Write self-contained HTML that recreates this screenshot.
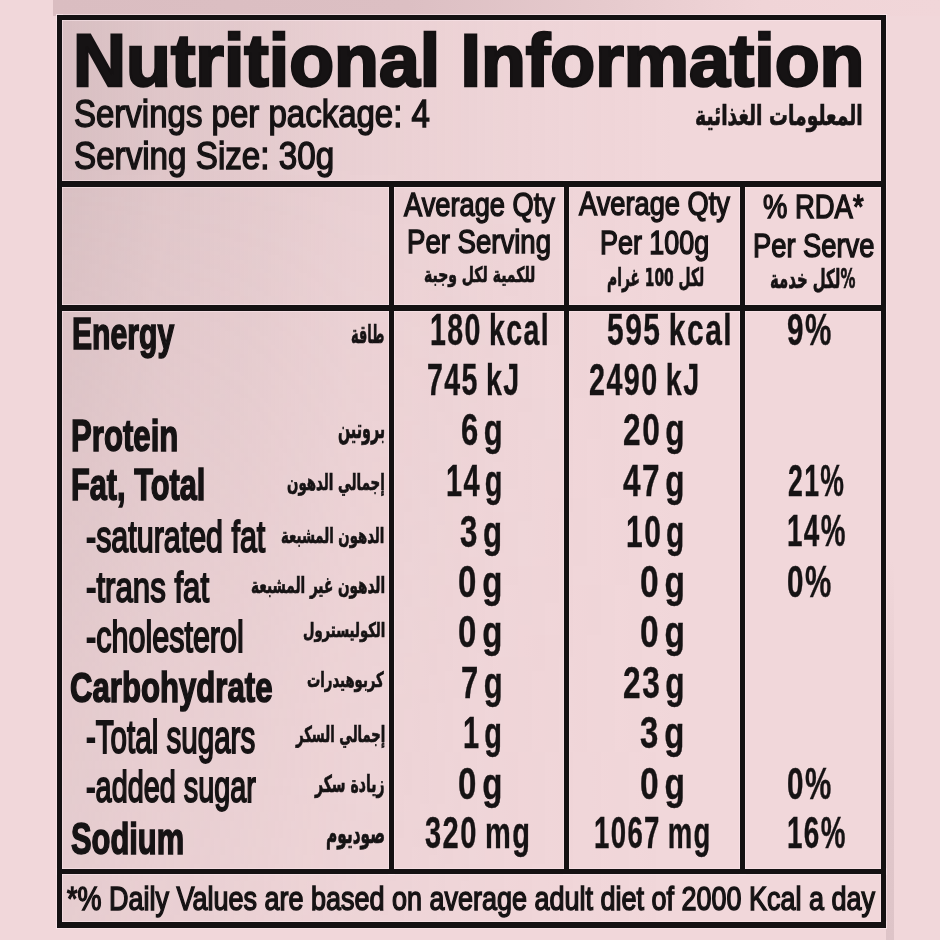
<!DOCTYPE html>
<html><head><meta charset="utf-8"><title>Nutritional Information</title>
<style>
html,body{margin:0;padding:0;}
body{width:940px;height:940px;position:relative;overflow:hidden;
background:#f1d7da;}
.top{position:absolute;left:53px;top:0;width:887px;height:16px;
background:linear-gradient(90deg,#dabdc1 0%,#dcbfc3 40%,#e6cacd 62%,#f0d4d7 80%,#f1d6d9 100%);}
.bg{position:absolute;left:57px;top:15px;width:829px;height:913px;background:#f1d7da;}
.shade{position:absolute;left:57px;top:15px;width:829px;height:913px;
background:linear-gradient(90deg,rgba(183,159,162,0.43) 0px,rgba(183,159,162,0.36) 60px,rgba(183,159,162,0.29) 110px,rgba(183,159,162,0.23) 185px,rgba(183,159,162,0.12) 295px,rgba(183,159,162,0.05) 440px,rgba(183,159,162,0) 620px);
-webkit-mask-image:linear-gradient(180deg,#000 0px,#000 140px,rgba(0,0,0,0.78) 390px,rgba(0,0,0,0.52) 690px,rgba(0,0,0,0.42) 913px);
mask-image:linear-gradient(180deg,#000 0px,#000 140px,rgba(0,0,0,0.78) 390px,rgba(0,0,0,0.52) 690px,rgba(0,0,0,0.42) 913px);}
.ln{position:absolute;background:#141112;}
.hl{position:absolute;background:rgba(252,232,236,0.55);}
.rs{position:absolute;left:886px;top:560px;width:8px;height:380px;background:linear-gradient(180deg,rgba(222,196,200,0) 0%,rgba(222,196,200,0.8) 60%,rgba(222,196,200,1) 100%);}
.t{position:absolute;white-space:nowrap;color:#161314;transform-origin:0 0;}
</style></head><body>
<div class="top"></div><div class="bg"></div><div class="shade"></div><div class="rs"></div>
<div class="hl" style="left:56px;top:14px;width:831px;height:7px"></div><div class="hl" style="left:56px;top:921px;width:831px;height:8px"></div><div class="hl" style="left:56px;top:14px;width:7px;height:915px"></div><div class="hl" style="left:880px;top:14px;width:7px;height:915px"></div><div class="hl" style="left:56px;top:180px;width:831px;height:8px"></div><div class="hl" style="left:56px;top:304px;width:831px;height:8px"></div><div class="hl" style="left:56px;top:868px;width:831px;height:7px"></div><div class="hl" style="left:388px;top:180px;width:7px;height:695px"></div><div class="hl" style="left:563px;top:180px;width:7px;height:695px"></div><div class="hl" style="left:739px;top:180px;width:7px;height:695px"></div><div class="ln" style="left:57px;top:15px;width:829px;height:5px"></div><div class="ln" style="left:57px;top:922px;width:829px;height:6px"></div><div class="ln" style="left:57px;top:15px;width:5px;height:913px"></div><div class="ln" style="left:881px;top:15px;width:5px;height:913px"></div><div class="ln" style="left:57px;top:181px;width:829px;height:6px"></div><div class="ln" style="left:57px;top:305px;width:829px;height:6px"></div><div class="ln" style="left:57px;top:869px;width:829px;height:5px"></div><div class="ln" style="left:389px;top:181px;width:5px;height:693px"></div><div class="ln" style="left:564px;top:181px;width:5px;height:693px"></div><div class="ln" style="left:740px;top:181px;width:5px;height:693px"></div>
<div class="t" style="left:72.86px;top:22.56px;font-size:74.64px;line-height:74.64px;font-family:'Liberation Sans',sans-serif;font-weight:700;transform:scaleX(0.9841);-webkit-text-stroke:2.6px #141112;">Nutritional Information</div><div class="t" style="left:73.85px;top:94.46px;font-size:38.99px;line-height:38.99px;font-family:'Liberation Sans',sans-serif;font-weight:400;transform:scaleX(0.8465);-webkit-text-stroke:1.45px currentColor;">Servings per package: 4</div><div class="t" style="left:73.84px;top:136.69px;font-size:38.84px;line-height:38.84px;font-family:'Liberation Sans',sans-serif;font-weight:400;transform:scaleX(0.8548);-webkit-text-stroke:1.45px currentColor;">Serving Size: 30g</div><div class="t" style="left:404.00px;top:187.60px;font-size:33.77px;line-height:33.77px;font-family:'Liberation Sans',sans-serif;font-weight:400;transform:scaleX(0.8072);-webkit-text-stroke:1.45px currentColor;">Average Qty</div><div class="t" style="left:406.80px;top:225.17px;font-size:33.33px;line-height:33.33px;font-family:'Liberation Sans',sans-serif;font-weight:400;transform:scaleX(0.8268);-webkit-text-stroke:1.45px currentColor;">Per Serving</div><div class="t" style="left:579.00px;top:187.94px;font-size:32.90px;line-height:32.90px;font-family:'Liberation Sans',sans-serif;font-weight:400;transform:scaleX(0.8285);-webkit-text-stroke:1.45px currentColor;">Average Qty</div><div class="t" style="left:600.25px;top:225.91px;font-size:33.04px;line-height:33.04px;font-family:'Liberation Sans',sans-serif;font-weight:400;transform:scaleX(0.8150);-webkit-text-stroke:1.45px currentColor;">Per 100g</div><div class="t" style="left:762.90px;top:190.17px;font-size:33.33px;line-height:33.33px;font-family:'Liberation Sans',sans-serif;font-weight:400;transform:scaleX(0.8227);-webkit-text-stroke:1.45px currentColor;">% RDA*</div><div class="t" style="left:752.81px;top:227.55px;font-size:34.06px;line-height:34.06px;font-family:'Liberation Sans',sans-serif;font-weight:400;transform:scaleX(0.8020);-webkit-text-stroke:1.45px currentColor;">Per Serve</div><div class="t" style="left:71.59px;top:312.64px;font-size:43.48px;line-height:43.48px;font-family:'Liberation Sans',sans-serif;font-weight:700;transform:scaleX(0.6935);-webkit-text-stroke:1.6px currentColor;">Energy</div><div class="t" style="left:70.72px;top:412.57px;font-size:45.22px;line-height:45.22px;font-family:'Liberation Sans',sans-serif;font-weight:700;transform:scaleX(0.6889);-webkit-text-stroke:1.6px currentColor;">Protein</div><div class="t" style="left:70.85px;top:463.33px;font-size:44.20px;line-height:44.20px;font-family:'Liberation Sans',sans-serif;font-weight:700;transform:scaleX(0.6953);-webkit-text-stroke:1.6px currentColor;">Fat, Total</div><div class="t" style="left:85.78px;top:514.67px;font-size:43.91px;line-height:43.91px;font-family:'Liberation Sans',sans-serif;font-weight:400;transform:scaleX(0.6929);-webkit-text-stroke:1.9px currentColor;">-saturated fat</div><div class="t" style="left:85.75px;top:566.16px;font-size:42.75px;line-height:42.75px;font-family:'Liberation Sans',sans-serif;font-weight:400;transform:scaleX(0.7299);-webkit-text-stroke:1.9px currentColor;">-trans fat</div><div class="t" style="left:85.78px;top:615.33px;font-size:44.20px;line-height:44.20px;font-family:'Liberation Sans',sans-serif;font-weight:400;transform:scaleX(0.6908);-webkit-text-stroke:1.9px currentColor;">-cholesterol</div><div class="t" style="left:70.45px;top:667.21px;font-size:42.46px;line-height:42.46px;font-family:'Liberation Sans',sans-serif;font-weight:700;transform:scaleX(0.7336);-webkit-text-stroke:1.6px currentColor;">Carbohydrate</div><div class="t" style="left:85.82px;top:714.65px;font-size:45.94px;line-height:45.94px;font-family:'Liberation Sans',sans-serif;font-weight:400;transform:scaleX(0.6434);-webkit-text-stroke:1.9px currentColor;">-Total sugars</div><div class="t" style="left:85.85px;top:765.33px;font-size:44.20px;line-height:44.20px;font-family:'Liberation Sans',sans-serif;font-weight:400;transform:scaleX(0.6527);-webkit-text-stroke:1.9px currentColor;">-added sugar</div><div class="t" style="left:70.77px;top:816.95px;font-size:44.06px;line-height:44.06px;font-family:'Liberation Sans',sans-serif;font-weight:700;transform:scaleX(0.7000);-webkit-text-stroke:1.6px currentColor;">Sodium</div><div class="t" style="left:66.86px;top:882.81px;font-size:32.46px;line-height:32.46px;font-family:'Liberation Sans',sans-serif;font-weight:400;transform:scaleX(0.8314);-webkit-text-stroke:1.45px currentColor;">*% Daily Values are based on average adult diet of 2000 Kcal a day</div><div class="t" style="left:429.89px;top:307.92px;font-size:44.51px;line-height:44.51px;font-family:'Liberation Sans',sans-serif;font-weight:700;word-spacing:-0.08em;letter-spacing:0.05em;transform:scaleX(0.6406);-webkit-text-stroke:0.4px currentColor;">180 kcal</div><div class="t" style="left:426.66px;top:357.66px;font-size:44.93px;line-height:44.93px;font-family:'Liberation Sans',sans-serif;font-weight:700;word-spacing:-0.08em;letter-spacing:0.05em;transform:scaleX(0.6356);-webkit-text-stroke:0.4px currentColor;">745 kJ</div><div class="t" style="left:460.76px;top:408.32px;font-size:44.51px;line-height:44.51px;font-family:'Liberation Sans',sans-serif;font-weight:700;word-spacing:-0.2em;letter-spacing:0.05em;transform:scaleX(0.6958);-webkit-text-stroke:0.4px currentColor;">6 g</div><div class="t" style="left:445.96px;top:458.92px;font-size:44.51px;line-height:44.51px;font-family:'Liberation Sans',sans-serif;font-weight:700;word-spacing:-0.2em;letter-spacing:0.05em;transform:scaleX(0.6506);-webkit-text-stroke:0.4px currentColor;">14 g</div><div class="t" style="left:460.37px;top:509.62px;font-size:44.51px;line-height:44.51px;font-family:'Liberation Sans',sans-serif;font-weight:700;word-spacing:-0.2em;letter-spacing:0.05em;transform:scaleX(0.7026);-webkit-text-stroke:0.4px currentColor;">3 g</div><div class="t" style="left:458.18px;top:559.62px;font-size:44.51px;line-height:44.51px;font-family:'Liberation Sans',sans-serif;font-weight:700;word-spacing:-0.2em;letter-spacing:0.05em;transform:scaleX(0.7411);-webkit-text-stroke:0.4px currentColor;">0 g</div><div class="t" style="left:458.18px;top:609.62px;font-size:44.51px;line-height:44.51px;font-family:'Liberation Sans',sans-serif;font-weight:700;word-spacing:-0.2em;letter-spacing:0.05em;transform:scaleX(0.7411);-webkit-text-stroke:0.4px currentColor;">0 g</div><div class="t" style="left:460.76px;top:660.97px;font-size:44.23px;line-height:44.23px;font-family:'Liberation Sans',sans-serif;font-weight:700;word-spacing:-0.2em;letter-spacing:0.05em;transform:scaleX(0.7002);-webkit-text-stroke:0.4px currentColor;">7 g</div><div class="t" style="left:463.26px;top:710.90px;font-size:44.65px;line-height:44.65px;font-family:'Liberation Sans',sans-serif;font-weight:700;word-spacing:-0.2em;letter-spacing:0.05em;transform:scaleX(0.6499);-webkit-text-stroke:0.4px currentColor;">1 g</div><div class="t" style="left:458.18px;top:761.57px;font-size:44.23px;line-height:44.23px;font-family:'Liberation Sans',sans-serif;font-weight:700;word-spacing:-0.2em;letter-spacing:0.05em;transform:scaleX(0.7458);-webkit-text-stroke:0.4px currentColor;">0 g</div><div class="t" style="left:425.02px;top:810.87px;font-size:44.23px;line-height:44.23px;font-family:'Liberation Sans',sans-serif;font-weight:700;word-spacing:-0.08em;letter-spacing:0.05em;transform:scaleX(0.6559);-webkit-text-stroke:0.4px currentColor;">320 mg</div><div class="t" style="left:606.50px;top:307.92px;font-size:44.51px;line-height:44.51px;font-family:'Liberation Sans',sans-serif;font-weight:700;word-spacing:-0.08em;letter-spacing:0.05em;transform:scaleX(0.6729);-webkit-text-stroke:0.4px currentColor;">595 kcal</div><div class="t" style="left:589.14px;top:357.66px;font-size:44.93px;line-height:44.93px;font-family:'Liberation Sans',sans-serif;font-weight:700;word-spacing:-0.08em;letter-spacing:0.05em;transform:scaleX(0.6391);-webkit-text-stroke:0.4px currentColor;">2490 kJ</div><div class="t" style="left:623.05px;top:408.32px;font-size:44.51px;line-height:44.51px;font-family:'Liberation Sans',sans-serif;font-weight:700;word-spacing:-0.2em;letter-spacing:0.05em;transform:scaleX(0.7105);-webkit-text-stroke:0.4px currentColor;">20 g</div><div class="t" style="left:623.37px;top:458.92px;font-size:44.51px;line-height:44.51px;font-family:'Liberation Sans',sans-serif;font-weight:700;word-spacing:-0.2em;letter-spacing:0.05em;transform:scaleX(0.7067);-webkit-text-stroke:0.4px currentColor;">47 g</div><div class="t" style="left:626.20px;top:509.62px;font-size:44.51px;line-height:44.51px;font-family:'Liberation Sans',sans-serif;font-weight:700;word-spacing:-0.2em;letter-spacing:0.05em;transform:scaleX(0.6728);-webkit-text-stroke:0.4px currentColor;">10 g</div><div class="t" style="left:639.66px;top:559.62px;font-size:44.51px;line-height:44.51px;font-family:'Liberation Sans',sans-serif;font-weight:700;word-spacing:-0.2em;letter-spacing:0.05em;transform:scaleX(0.7520);-webkit-text-stroke:0.4px currentColor;">0 g</div><div class="t" style="left:639.66px;top:609.62px;font-size:44.51px;line-height:44.51px;font-family:'Liberation Sans',sans-serif;font-weight:700;word-spacing:-0.2em;letter-spacing:0.05em;transform:scaleX(0.7520);-webkit-text-stroke:0.4px currentColor;">0 g</div><div class="t" style="left:623.05px;top:660.97px;font-size:44.23px;line-height:44.23px;font-family:'Liberation Sans',sans-serif;font-weight:700;word-spacing:-0.2em;letter-spacing:0.05em;transform:scaleX(0.7150);-webkit-text-stroke:0.4px currentColor;">23 g</div><div class="t" style="left:640.34px;top:710.90px;font-size:44.65px;line-height:44.65px;font-family:'Liberation Sans',sans-serif;font-weight:700;word-spacing:-0.2em;letter-spacing:0.05em;transform:scaleX(0.7377);-webkit-text-stroke:0.4px currentColor;">3 g</div><div class="t" style="left:639.66px;top:761.57px;font-size:44.23px;line-height:44.23px;font-family:'Liberation Sans',sans-serif;font-weight:700;word-spacing:-0.2em;letter-spacing:0.05em;transform:scaleX(0.7568);-webkit-text-stroke:0.4px currentColor;">0 g</div><div class="t" style="left:594.35px;top:810.87px;font-size:44.23px;line-height:44.23px;font-family:'Liberation Sans',sans-serif;font-weight:700;word-spacing:-0.08em;letter-spacing:0.05em;transform:scaleX(0.6232);-webkit-text-stroke:0.4px currentColor;">1067 mg</div><div class="t" style="left:787.11px;top:308.00px;font-size:44.65px;line-height:44.65px;font-family:'Liberation Sans',sans-serif;font-weight:700;word-spacing:-0.2em;letter-spacing:0.05em;transform:scaleX(0.6641);-webkit-text-stroke:0.4px currentColor;">9%</div><div class="t" style="left:787.50px;top:458.86px;font-size:44.93px;line-height:44.93px;font-family:'Liberation Sans',sans-serif;font-weight:700;word-spacing:-0.2em;letter-spacing:0.05em;transform:scaleX(0.5924);-webkit-text-stroke:0.4px currentColor;">21%</div><div class="t" style="left:786.63px;top:509.06px;font-size:44.93px;line-height:44.93px;font-family:'Liberation Sans',sans-serif;font-weight:700;word-spacing:-0.2em;letter-spacing:0.05em;transform:scaleX(0.6190);-webkit-text-stroke:0.4px currentColor;">14%</div><div class="t" style="left:787.12px;top:559.60px;font-size:44.65px;line-height:44.65px;font-family:'Liberation Sans',sans-serif;font-weight:700;word-spacing:-0.2em;letter-spacing:0.05em;transform:scaleX(0.6625);-webkit-text-stroke:0.4px currentColor;">0%</div><div class="t" style="left:787.12px;top:761.57px;font-size:44.23px;line-height:44.23px;font-family:'Liberation Sans',sans-serif;font-weight:700;word-spacing:-0.2em;letter-spacing:0.05em;transform:scaleX(0.6689);-webkit-text-stroke:0.4px currentColor;">0%</div><div class="t" style="left:786.63px;top:810.87px;font-size:44.23px;line-height:44.23px;font-family:'Liberation Sans',sans-serif;font-weight:700;word-spacing:-0.2em;letter-spacing:0.05em;transform:scaleX(0.6288);-webkit-text-stroke:0.4px currentColor;">16%</div><div class="t" dir="rtl" style="left:694.68px;top:101.80px;font-size:27.50px;line-height:27.50px;font-family:'DejaVu Sans',sans-serif;font-weight:700;transform:scaleX(0.6834);-webkit-text-stroke:0.7px currentColor;">المعلومات الغذائية</div><div class="t" dir="rtl" style="left:423.52px;top:265.32px;font-size:21.00px;line-height:21.00px;font-family:'DejaVu Sans',sans-serif;font-weight:700;transform:scaleX(0.6667);-webkit-text-stroke:0.7px currentColor;">للكمية لكل وجبة</div><div class="t" dir="rtl" style="left:607.03px;top:265.00px;font-size:25.00px;line-height:25.00px;font-family:'DejaVu Sans',sans-serif;font-weight:700;transform:scaleX(0.5539);-webkit-text-stroke:0.7px currentColor;">لكل 100 غرام</div><div class="t" dir="rtl" style="left:769.96px;top:265.91px;font-size:26.09px;line-height:26.09px;font-family:'DejaVu Sans',sans-serif;font-weight:700;transform:scaleX(0.5716);-webkit-text-stroke:0.7px currentColor;">%لكل خدمة</div><div class="t" dir="rtl" style="left:351.09px;top:321.56px;font-size:25.53px;line-height:25.53px;font-family:'DejaVu Sans',sans-serif;font-weight:700;transform:scaleX(0.5074);-webkit-text-stroke:0.7px currentColor;">طاقة</div><div class="t" dir="rtl" style="left:337.64px;top:415.41px;font-size:27.40px;line-height:27.40px;font-family:'DejaVu Sans',sans-serif;font-weight:700;transform:scaleX(0.5221);-webkit-text-stroke:0.7px currentColor;">بروتين</div><div class="t" dir="rtl" style="left:287.00px;top:472.24px;font-size:22.00px;line-height:22.00px;font-family:'DejaVu Sans',sans-serif;font-weight:700;transform:scaleX(0.6080);-webkit-text-stroke:0.7px currentColor;">إجمالي الدهون</div><div class="t" dir="rtl" style="left:281.47px;top:524.89px;font-size:21.40px;line-height:21.40px;font-family:'DejaVu Sans',sans-serif;font-weight:700;transform:scaleX(0.6188);-webkit-text-stroke:0.7px currentColor;">الدهون المشبعة</div><div class="t" dir="rtl" style="left:250.75px;top:575.24px;font-size:22.00px;line-height:22.00px;font-family:'DejaVu Sans',sans-serif;font-weight:700;transform:scaleX(0.6179);-webkit-text-stroke:0.7px currentColor;">الدهون غير المشبعة</div><div class="t" dir="rtl" style="left:302.68px;top:620.40px;font-size:20.00px;line-height:20.00px;font-family:'DejaVu Sans',sans-serif;font-weight:700;transform:scaleX(0.6585);-webkit-text-stroke:0.7px currentColor;">الكوليسترول</div><div class="t" dir="rtl" style="left:307.01px;top:670.32px;font-size:21.00px;line-height:21.00px;font-family:'DejaVu Sans',sans-serif;font-weight:700;transform:scaleX(0.6294);-webkit-text-stroke:0.7px currentColor;">كربوهيدرات</div><div class="t" dir="rtl" style="left:295.53px;top:724.24px;font-size:22.00px;line-height:22.00px;font-family:'DejaVu Sans',sans-serif;font-weight:700;transform:scaleX(0.5989);-webkit-text-stroke:0.7px currentColor;">إجمالي السكر</div><div class="t" dir="rtl" style="left:315.26px;top:772.73px;font-size:23.40px;line-height:23.40px;font-family:'DejaVu Sans',sans-serif;font-weight:700;transform:scaleX(0.5978);-webkit-text-stroke:0.7px currentColor;">زيادة سكر</div><div class="t" dir="rtl" style="left:325.92px;top:819.55px;font-size:27.27px;line-height:27.27px;font-family:'DejaVu Sans',sans-serif;font-weight:700;transform:scaleX(0.5644);-webkit-text-stroke:0.7px currentColor;">صوديوم</div>
</body></html>
